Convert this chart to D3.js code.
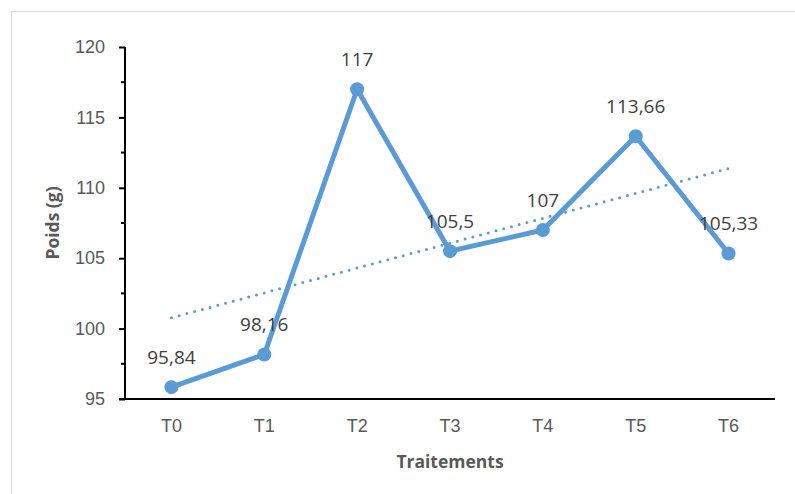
<!DOCTYPE html>
<html>
<head>
<meta charset="utf-8">
<script src="https://cdn.jsdelivr.net/npm/d3@7"></script>
<style>
  html, body { margin: 0; padding: 0; background: #fff; }
  svg { display: block; font-family: "Open Sans", "Liberation Sans", sans-serif; }
</style>
</head>
<body>
<svg id="chart" width="795" height="494"></svg>
<script>
// Poids moyen par traitement
const categories = ["T0", "T1", "T2", "T3", "T4", "T5", "T6"];
const poids = [95.84, 98.16, 117, 105.5, 107, 113.66, 105.33];
const valueLabels = ["95,84", "98,16", "117", "105,5", "107", "113,66", "105,33"];
const yTicks = [95, 100, 105, 110, 115, 120];
const yMinorTicks = [97.5, 102.5, 107.5, 112.5, 117.5];

const svg = d3.select("#chart");
const W = 795, H = 494;
const blue = "#5b9bd5";

// chart frame
svg.append("rect")
  .attr("x", 11.5).attr("y", 11.5)
  .attr("width", W).attr("height", H)
  .attr("fill", "#fff").attr("stroke", "#d9d9d9").attr("stroke-width", 1);

const plot = { left: 125, right: 775, top: 47, bottom: 399 };

const x = d3.scaleBand().domain(categories).range([plot.left, plot.right]);
const xc = d => x(d) + x.bandwidth() / 2;
const y = d3.scaleLinear().domain([95, 120]).range([plot.bottom, plot.top]);

// linear trend (least squares over category index)
const n = poids.length;
const idx = d3.range(n);
const mx = d3.mean(idx), my = d3.mean(poids);
const slope = d3.sum(idx, i => (i - mx) * (poids[i] - my)) / d3.sum(idx, i => (i - mx) ** 2);
const intercept = my - slope * mx;
const trend = [0, n - 1].map(i => ({ c: categories[i], v: intercept + slope * i }));

// y axis
const yAxis = svg.append("g").attr("transform", `translate(${plot.left},0)`)
  .call(d3.axisLeft(y).tickValues(yTicks).tickSize(6).tickPadding(14).tickFormat(d3.format("d")));
yAxis.select(".domain").attr("stroke", "#000").attr("stroke-width", 2).attr("d", `M0,${plot.top}V${plot.bottom}`);
yAxis.selectAll(".tick line").attr("stroke", "#000").attr("stroke-width", 2);
yAxis.selectAll(".tick text").attr("fill", "#595959").style("font-size", "18px");
svg.append("g").attr("transform", `translate(${plot.left},0)`)
  .selectAll("line").data(yMinorTicks).join("line")
  .attr("x1", -4).attr("x2", 0)
  .attr("y1", d => y(d)).attr("y2", d => y(d))
  .attr("stroke", "#000").attr("stroke-width", 2);

// x axis
const xAxis = svg.append("g").attr("transform", `translate(0,${plot.bottom})`)
  .call(d3.axisBottom(x).tickSize(0).tickPadding(20));
xAxis.select(".domain").attr("stroke", "#000").attr("stroke-width", 2).attr("d", `M${plot.left - 6},0H${plot.right}`);
xAxis.selectAll(".tick text").attr("fill", "#595959").style("font-size", "18px");

// axis titles
svg.append("text")
  .attr("x", (plot.left + plot.right) / 2).attr("y", 468)
  .attr("text-anchor", "middle").attr("fill", "#595959")
  .style("font-size", "17.5px").style("font-weight", "bold")
  .text("Traitements");
svg.append("text")
  .attr("transform", `translate(59,${(plot.top + plot.bottom) / 2}) rotate(-90)`)
  .attr("text-anchor", "middle").attr("fill", "#595959")
  .style("font-size", "17.5px").style("font-weight", "bold")
  .text("Poids (g)");

// trend line (dotted)
svg.append("path")
  .datum(trend)
  .attr("d", d3.line().x(d => xc(d.c)).y(d => y(d.v)))
  .attr("fill", "none").attr("stroke", blue)
  .attr("stroke-width", 3).attr("stroke-linecap", "round")
  .attr("stroke-dasharray", "0 8");

// series line
const pts = categories.map((c, i) => ({ c, v: poids[i], label: valueLabels[i] }));
svg.append("path")
  .datum(pts)
  .attr("d", d3.line().x(d => xc(d.c)).y(d => y(d.v)))
  .attr("fill", "none").attr("stroke", blue)
  .attr("stroke-width", 5).attr("stroke-linejoin", "round");

svg.append("g").selectAll("circle").data(pts).join("circle")
  .attr("cx", d => xc(d.c)).attr("cy", d => y(d.v)).attr("r", 7)
  .attr("fill", blue);

// value labels
svg.append("g").selectAll("text").data(pts).join("text")
  .attr("x", d => xc(d.c)).attr("y", d => y(d.v) - 30)
  .attr("text-anchor", "middle").attr("dy", "0.35em")
  .attr("fill", "#404040").style("font-size", "19px")
  .text(d => d.label);
</script>
</body>
</html>
